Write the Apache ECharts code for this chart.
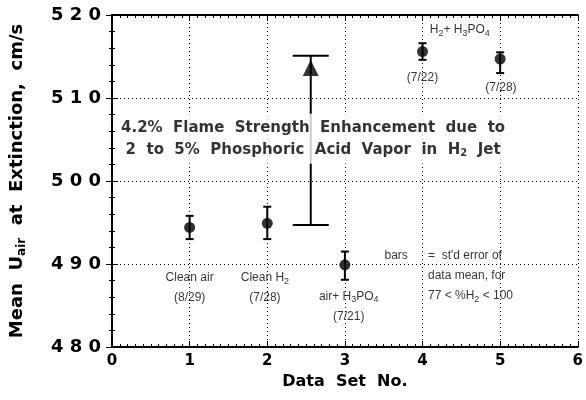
<!DOCTYPE html>
<html>
<head>
<meta charset="utf-8">
<script src="https://cdn.jsdelivr.net/npm/echarts@6/dist/echarts.min.js"></script>
<style>
  html, body { margin: 0; padding: 0; background: #fff; }
  #main { width: 586px; height: 400px; }
</style>
</head>
<body>
<div id="main"></div>
<script>
// data sets 1..5 (mean and std error range)
var setNo = [1, 2, 3, 4, 5];
var meanU = [494.4, 494.9, 489.9, 515.6, 514.7];
var errHigh = [495.8, 496.9, 491.5, 516.6, 515.5];
var errLow = [493.0, 493.0, 488.1, 514.6, 513.0];

// H2 jet with phosphoric acid vapor (triangle)
var jetSetNo = [2.56];
var jetU = [513.6];
var jetHigh = [515.1];
var jetLow = [494.7];

// axis ticks
var xTicks = [0, 1, 2, 3, 4, 5, 6];
var yTicks = [480, 490, 500, 510, 520];

// notes placed in data coordinates
var notes = [
  { at: [1, 487.1], text: "Clean air\n(8/29)" },
  { at: [1.97, 487.1], text: "Clean H{s|2}\n(7/28)" },
  { at: [3.05, 484.9], text: "air+ H{s|3}PO{s|4}\n(7/21)" },
  { at: [4.48, 518.2], text: "H{s|2}+ H{s|3}PO{s|4}" },
  { at: [4.0, 512.4], text: "(7/22)" },
  { at: [5.01, 511.2], text: "(7/28)" },
  { at: [3.66, 491.0], text: "bars" },
  { at: [4.07, 488.6], text: "=  st'd error of\ndata mean, for\n77 < %H{s|2} < 100", left: true }
];
var headline = { at: [2.59, 505.1], text: "4.2%  Flame  Strength  Enhancement  due  to\n2  to  5%  Phosphoric  Acid  Vapor  in  H{bs|2}  Jet" };

var myChart = echarts.init(document.getElementById("main"));

// error bar drawer, cap half width in px
function errorBars(cap) {
  return function (params, api) {
    var hi = api.coord([api.value(0), api.value(1)]);
    var lo = api.coord([api.value(0), api.value(2)]);
    var st = { stroke: "#000", lineWidth: 2 };
    return {
      type: "group",
      children: [
        { type: "line", shape: { x1: hi[0], y1: hi[1], x2: lo[0], y2: lo[1] }, style: st },
        { type: "line", shape: { x1: hi[0] - cap, y1: hi[1], x2: hi[0] + cap, y2: hi[1] }, style: st },
        { type: "line", shape: { x1: lo[0] - cap, y1: lo[1], x2: lo[0] + cap, y2: lo[1] }, style: st }
      ]
    };
  };
}

var font = "Liberation Sans";
var boldFont = "DejaVu Sans";
var subRich = { s: { fontSize: 9, padding: [7, 0, 0, 0], fontFamily: font, color: "#000" } };

var axisCommon = {
  type: "value",
  axisLine: { lineStyle: { color: "#000", width: 2 } },
  axisTick: { inside: true, length: 6, lineStyle: { color: "#000" } },
  minorTick: { show: true, length: 3, lineStyle: { color: "#000" } }
};

myChart.setOption({
  animation: false,
  backgroundColor: "#fff",
  grid: { left: 112, right: 2, top: 15, bottom: 53 },
  xAxis: [
    Object.assign({}, axisCommon, {
      min: xTicks[0], max: xTicks[xTicks.length - 1], interval: 1,
      minorTick: Object.assign({}, axisCommon.minorTick, { splitNumber: 10 }),
      name: "Data  Set  No.",
      nameLocation: "middle",
      nameGap: 23,
      nameTextStyle: { fontFamily: boldFont, fontWeight: "bold", fontSize: 16, color: "#000" },
      axisLabel: { fontFamily: boldFont, fontWeight: "bold", fontSize: 15, color: "#000", margin: 7 },
      splitLine: { show: true, lineStyle: { color: "#000", type: [1, 3], width: 1 } }
    }),
    Object.assign({}, axisCommon, {
      position: "top",
      min: xTicks[0], max: xTicks[xTicks.length - 1], interval: 1,
      minorTick: Object.assign({}, axisCommon.minorTick, { splitNumber: 10 }),
      axisLabel: { show: false },
      splitLine: { show: false }
    })
  ],
  yAxis: [
    Object.assign({}, axisCommon, {
      min: yTicks[0], max: yTicks[yTicks.length - 1], interval: 10,
      minorTick: Object.assign({}, axisCommon.minorTick, { splitNumber: 5 }),
      name: "Mean  U{a|air}  at  Extinction,  cm/s",
      nameLocation: "middle",
      nameGap: 84,
      nameTextStyle: {
        fontFamily: boldFont, fontWeight: "bold", fontSize: 18, color: "#000",
        rich: { a: { fontSize: 12, fontWeight: "bold", fontFamily: boldFont, padding: [9, 0, 0, 0], color: "#000" } }
      },
      axisLabel: {
        fontFamily: boldFont, fontWeight: "bold", fontSize: 18, color: "#000", margin: 11,
        formatter: function (v) { return String(v).split("").join(" "); }
      },
      splitLine: { show: true, lineStyle: { color: "#000", type: [1, 3], width: 1 } }
    }),
    Object.assign({}, axisCommon, {
      position: "right",
      min: yTicks[0], max: yTicks[yTicks.length - 1], interval: 10,
      minorTick: Object.assign({}, axisCommon.minorTick, { splitNumber: 5 }),
      axisLabel: { show: false },
      splitLine: { show: false }
    })
  ],
  series: [
    {
      type: "custom",
      renderItem: errorBars(4),
      data: setNo.map(function (x, i) { return [x, errHigh[i], errLow[i]]; }),
      z: 2
    },
    {
      type: "custom",
      renderItem: errorBars(18),
      data: jetSetNo.map(function (x, i) { return [x, jetHigh[i], jetLow[i]]; }),
      z: 2
    },
    {
      type: "scatter",
      symbol: "circle",
      symbolSize: 11,
      itemStyle: { color: "#000" },
      data: setNo.map(function (x, i) { return [x, meanU[i]]; }),
      z: 3
    },
    {
      type: "scatter",
      symbol: "triangle",
      symbolSize: 16,
      itemStyle: { color: "#000" },
      data: jetSetNo.map(function (x, i) { return [x, jetU[i]]; }),
      z: 3
    },
    {
      type: "scatter",
      symbolSize: 0,
      silent: true,
      z: 5,
      label: {
        show: true,
        position: "inside",
        fontFamily: font,
        fontSize: 12,
        lineHeight: 20,
        color: "#000",
        rich: subRich,
        formatter: function (p) { return p.data.text; }
      },
      data: notes.map(function (n) {
        var item = { value: n.at, text: n.text };
        if (n.left) item.label = { align: "left" };
        return item;
      })
    },
    {
      type: "scatter",
      symbolSize: 0,
      silent: true,
      z: 6,
      label: {
        show: true,
        position: "inside",
        fontFamily: boldFont,
        fontWeight: "bold",
        fontSize: 15,
        lineHeight: 22,
        color: "#000",
        backgroundColor: "#fff",
        padding: [3, 4, 3, 4],
        rich: { bs: { fontSize: 10, fontWeight: "bold", fontFamily: boldFont, padding: [8, 0, 0, 0], color: "#000" } },
        formatter: function (p) { return p.data.text; }
      },
      data: [{ value: headline.at, text: headline.text }]
    }
  ]
});
</script>
</body>
</html>
